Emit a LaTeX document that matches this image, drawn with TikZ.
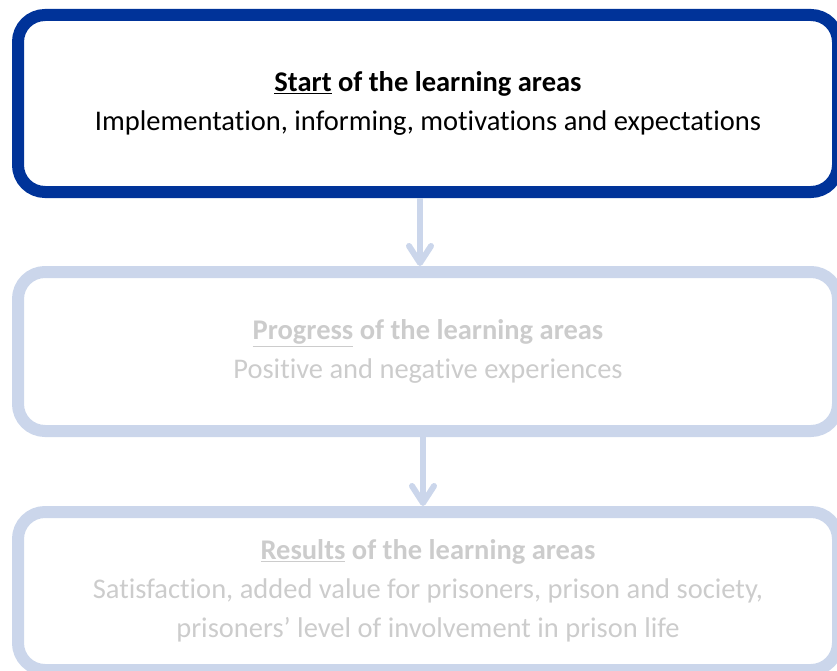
\documentclass[tikz,border=0pt]{standalone}
\usepackage{fontspec}
\setmainfont{Carlito}[Ligatures=NoCommon]
\usetikzlibrary{arrows.meta}
\definecolor{darkblue}{RGB}{0,51,153}
\definecolor{lightblue}{RGB}{203,214,235}
\definecolor{paletext}{RGB}{204,204,204}
\newcommand{\ul}[1]{\underline{#1}}
\begin{document}
\begin{tikzpicture}[x=1pt,y=-1pt,
  box/.style={draw, rounded corners=27pt, line width=12pt, minimum width=820pt, align=center, inner sep=0pt,
    font=\fontsize{28.5pt}{39pt}\selectfont},
  activebox/.style={box, draw=darkblue, text=black},
  palebox/.style={box, draw=lightblue, text=paletext},
  arr/.style={draw=lightblue, line width=6pt, -{Straight Barb[length=17pt,width=22pt,line cap=round,line join=round]}}]
\useasboundingbox (0,0) rectangle (837,671);
\node[activebox, minimum height=177pt] (b1) at (428,103.5)
  {\textbf{\ul{Start} of the learning areas}\\Implementation, informing, motivations and expectations};
\node[palebox, minimum height=159pt] (b2) at (428,351.5)
  {\textbf{\ul{Progress} of the learning areas}\\Positive and negative experiences};
\node[palebox, minimum height=158pt] (b3) at (428,591)
  {\textbf{\ul{Results} of the learning areas}\\Satisfaction, added value for prisoners, prison and society,\\prisoners' level of involvement in prison life};
\draw[arr] ([xshift=-8pt]b1.south) -- ([xshift=-8pt]b2.north);
\draw[arr] ([xshift=-5pt]b2.south) -- ([xshift=-5pt]b3.north);
\end{tikzpicture}
\end{document}
